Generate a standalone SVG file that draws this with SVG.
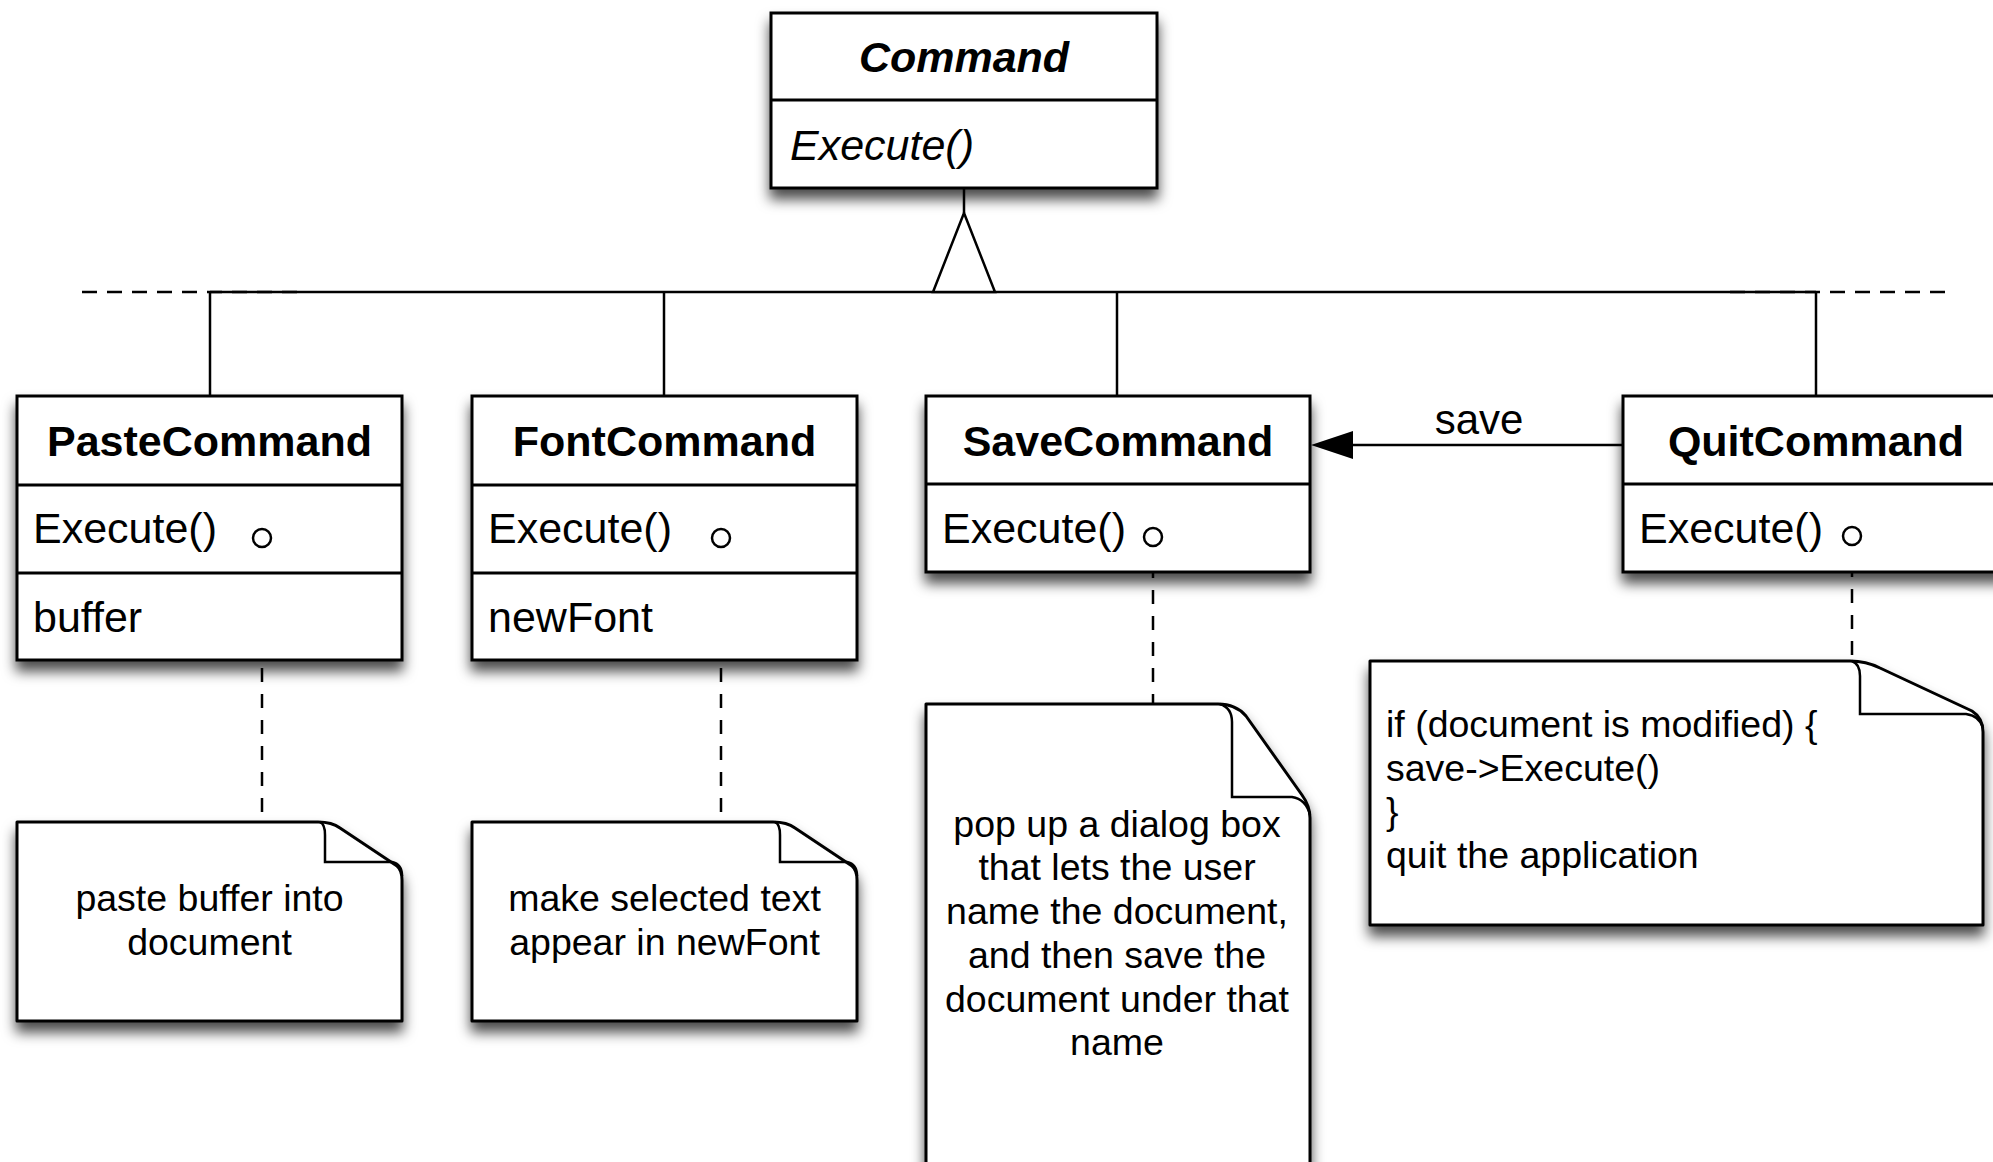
<svg xmlns="http://www.w3.org/2000/svg" width="1993" height="1162" viewBox="0 0 1993 1162">
<defs>
<filter id="sh" x="-10%" y="-10%" width="125%" height="140%">
<feDropShadow dx="0" dy="10" stdDeviation="6.5" flood-color="#000" flood-opacity="0.7"/>
</filter>
</defs>
<style>
.box{fill:#fff;stroke:#000;stroke-width:3}
.div{stroke:#000;stroke-width:3}
.ln{stroke:#000;stroke-width:2.5;fill:none}
.dash{stroke:#000;stroke-width:2.5;fill:none;stroke-dasharray:15 10}
.ndash{stroke:#000;stroke-width:2.5;fill:none;stroke-dasharray:14 12;stroke-dashoffset:9}
.pin{fill:#fff;stroke:#000;stroke-width:2.5}
.note{fill:#fff;stroke:#000;stroke-width:3;stroke-linejoin:round}
.fold{fill:none;stroke:#000;stroke-width:2.5}
.title{font-family:"Liberation Sans",Arial,sans-serif;font-weight:bold;font-size:43px;text-anchor:middle}
.op{font-family:"Liberation Sans",Arial,sans-serif;font-size:43px}
.nt{font-family:"Liberation Sans",Arial,sans-serif;font-size:37.5px;text-anchor:middle}
.ntl{font-family:"Liberation Sans",Arial,sans-serif;font-size:37.5px}
</style>
<rect width="1993" height="1162" fill="#fff"/>

<g id="connectors">
<line class="dash" x1="82" y1="292" x2="300" y2="292"/>
<line class="dash" x1="1730" y1="292" x2="1950" y2="292"/>
<line class="ln" x1="210" y1="292" x2="1816" y2="292"/>
<line class="ln" x1="210" y1="292" x2="210" y2="396"/>
<line class="ln" x1="664" y1="292" x2="664" y2="396"/>
<line class="ln" x1="1117" y1="292" x2="1117" y2="396"/>
<line class="ln" x1="1816" y1="292" x2="1816" y2="396"/>
<line class="ln" x1="964" y1="188" x2="964" y2="213"/>
<polygon class="ln" points="964,213 933,292 995,292" style="fill:#fff"/>
<line class="ln" x1="1623" y1="445" x2="1350" y2="445"/>
<polygon points="1311,445 1353,431 1353,459" fill="#000"/>
<text class="op" x="1479" y="434" text-anchor="middle" style="font-size:42px">save</text>
<line class="ndash" x1="262" y1="547" x2="262" y2="822"/>
<line class="ndash" x1="721" y1="547" x2="721" y2="822"/>
<line class="ndash" x1="1153" y1="547" x2="1153" y2="704"/>
<line class="ndash" x1="1852" y1="546" x2="1852" y2="661"/>
</g>

<g id="command">
<rect class="box" x="771" y="13" width="386" height="175" filter="url(#sh)"/>
<line class="div" x1="771" y1="100" x2="1157" y2="100"/>
<text class="title" x="964" y="72" font-style="italic">Command</text>
<text class="op" x="790" y="160" font-style="italic">Execute()</text>
</g>

<g id="pastecommand">
<rect class="box" x="17" y="396" width="385" height="264" filter="url(#sh)"/>
<line class="div" x1="17" y1="485" x2="402" y2="485"/>
<line class="div" x1="17" y1="573" x2="402" y2="573"/>
<text class="title" x="209.5" y="456">PasteCommand</text>
<text class="op" x="33" y="543">Execute()</text>
<text class="op" x="33" y="632">buffer</text>
<circle class="pin" cx="262" cy="538" r="9"/>
</g>

<g id="fontcommand">
<rect class="box" x="472" y="396" width="385" height="264" filter="url(#sh)"/>
<line class="div" x1="472" y1="485" x2="857" y2="485"/>
<line class="div" x1="472" y1="573" x2="857" y2="573"/>
<text class="title" x="664.5" y="456">FontCommand</text>
<text class="op" x="488" y="543">Execute()</text>
<text class="op" x="488" y="632">newFont</text>
<circle class="pin" cx="721" cy="538" r="9"/>
</g>

<g id="savecommand">
<rect class="box" x="926" y="396" width="384" height="176" filter="url(#sh)"/>
<line class="div" x1="926" y1="484" x2="1310" y2="484"/>
<text class="title" x="1118" y="456">SaveCommand</text>
<text class="op" x="942" y="543">Execute()</text>
<circle class="pin" cx="1153" cy="537" r="9"/>
</g>

<g id="quitcommand">
<rect class="box" x="1623" y="396" width="386" height="176" filter="url(#sh)"/>
<line class="div" x1="1623" y1="484" x2="2009" y2="484"/>
<text class="title" x="1816" y="456">QuitCommand</text>
<text class="op" x="1639" y="543">Execute()</text>
<circle class="pin" cx="1852" cy="536" r="9"/>
</g>

<g id="note-paste">
<path class="note" filter="url(#sh)" d="M17,822 H318 Q332,822 340,828 L397,866 Q402,870 402,880 V1021 H17 Z"/>
<path class="fold" d="M320,822 Q325,824 325,835 V862 H392 Q402,864 402,876"/>
<text class="nt" x="209.5" y="911">paste buffer into</text>
<text class="nt" x="209.5" y="955">document</text>
</g>

<g id="note-font">
<path class="note" filter="url(#sh)" d="M472,822 H773 Q787,822 795,828 L852,866 Q857,870 857,880 V1021 H472 Z"/>
<path class="fold" d="M775,822 Q780,824 780,835 V862 H847 Q857,864 857,876"/>
<text class="nt" x="664.5" y="911">make selected text</text>
<text class="nt" x="664.5" y="955">appear in newFont</text>
</g>

<g id="note-save">
<path class="note" filter="url(#sh)" d="M926,704 H1218 Q1236,704 1246,716 L1302,795 Q1310,806 1310,818 V1200 H926 Z"/>
<path class="fold" d="M1220,704 Q1232,708 1232,722 V797 H1292 Q1306,799 1310,815"/>
<text class="nt" x="1117" y="837">pop up a dialog box</text>
<text class="nt" x="1117" y="880">that lets the user</text>
<text class="nt" x="1117" y="924">name the document,</text>
<text class="nt" x="1117" y="968">and then save the</text>
<text class="nt" x="1117" y="1012">document under that</text>
<text class="nt" x="1117" y="1055">name</text>
</g>

<g id="note-quit">
<path class="note" filter="url(#sh)" d="M1370,661 H1850 Q1866,661 1880,668 L1972,711 Q1983,718 1983,732 V925 H1370 Z"/>
<path class="fold" d="M1852,661 Q1860,664 1860,676 V714 H1966 Q1980,716 1983,728"/>
<text class="ntl" x="1386" y="737">if (document is modified) {</text>
<text class="ntl" x="1386" y="781">save-&gt;Execute()</text>
<text class="ntl" x="1386" y="824">}</text>
<text class="ntl" x="1386" y="868">quit the application</text>
</g>
</svg>
